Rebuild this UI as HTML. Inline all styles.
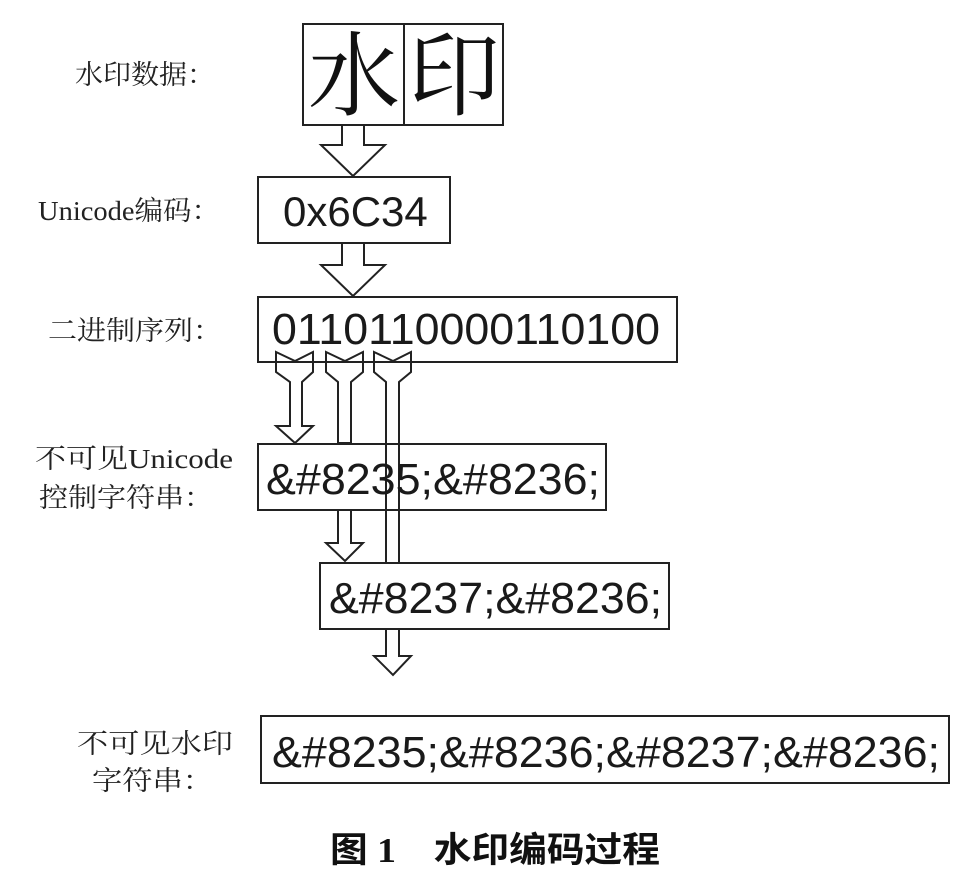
<!DOCTYPE html>
<html><head><meta charset="utf-8"><style>
html,body{margin:0;padding:0;background:#fff;}
svg{display:block}
.l{font-family:"Liberation Serif","Noto Serif CJK SC",serif;font-size:27px;fill:#222}
.b{font-family:"Liberation Sans","Noto Sans CJK SC",sans-serif;font-size:44px;fill:#1a1a1a}
</style></head><body>
<svg width="964" height="878" viewBox="0 0 964 878" xmlns="http://www.w3.org/2000/svg">
<g fill="#fff" stroke="#222" stroke-width="2">
<rect x="303" y="24" width="200" height="101"/>
<line x1="404" y1="24" x2="404" y2="125"/>
<polygon points="342,125 364,125 364,145 385,145 353,176 321,145 342,145"/>
<rect x="258" y="177" width="192" height="66"/>
<polygon points="342,243 364,243 364,265 385,265 353,296 321,265 342,265"/>
<rect x="258" y="297" width="419" height="65"/>
<rect x="258" y="444" width="348" height="66"/>
<rect x="320" y="563" width="349" height="66"/>
<rect x="261" y="716" width="688" height="67"/>
</g>
<g fill="none" stroke="#222" stroke-width="2">
<polygon points="276,352 295,361 313,352 313,372 302,382 302,426 313,426 295,443 276,426 290,426 290,382 276,372"/>
<polygon points="326,352 345,361 363,352 363,372 351,382 351,443 338,443 338,382 326,372"/>
<polygon points="338,510 351,510 351,543 363,543 345,561 326,543 338,543"/>
<polygon points="374,352 393,361 411,352 411,372 399,382 399,563 386,563 386,382 374,372"/>
<polygon points="386,629 399,629 399,656 411,656 393,675 374,656 386,656"/>
</g>
<text x="308" y="108" style="font-family:'Noto Serif CJK SC',serif;font-size:92px;fill:#111">水</text>
<text x="408" y="108" style="font-family:'Noto Serif CJK SC',serif;font-size:92px;fill:#111">印</text>
<text class="b" x="283" y="226" style="font-size:42px">0x6C34</text>
<text class="b" x="272" y="344" textLength="388" lengthAdjust="spacingAndGlyphs">0110110000110100</text>
<text class="b" x="266" y="494" textLength="334" lengthAdjust="spacingAndGlyphs">&amp;#8235;&amp;#8236;</text>
<text class="b" x="329" y="613" textLength="333" lengthAdjust="spacingAndGlyphs">&amp;#8237;&amp;#8236;</text>
<text class="b" x="272" y="767" textLength="668" lengthAdjust="spacingAndGlyphs">&amp;#8235;&amp;#8236;&amp;#8237;&amp;#8236;</text>
<text class="l" x="75" y="84" textLength="140" lengthAdjust="spacingAndGlyphs">水印数据：</text>
<text class="l" x="38" y="220" textLength="182" lengthAdjust="spacingAndGlyphs">Unicode编码：</text>
<text class="l" x="48" y="340" textLength="174" lengthAdjust="spacingAndGlyphs">二进制序列：</text>
<text class="l" x="35" y="468" textLength="198" lengthAdjust="spacingAndGlyphs">不可见Unicode</text>
<text class="l" x="39" y="507" textLength="174" lengthAdjust="spacingAndGlyphs">控制字符串：</text>
<text class="l" x="77" y="753" textLength="156" lengthAdjust="spacingAndGlyphs">不可见水印</text>
<text class="l" x="92" y="790" textLength="121" lengthAdjust="spacingAndGlyphs">字符串：</text>
<text x="330" y="862" textLength="330" lengthAdjust="spacingAndGlyphs" style="font-family:'Liberation Serif','Noto Sans CJK SC',sans-serif;font-size:35px;font-weight:bold;fill:#111">图 1　水印编码过程</text>
</svg>
</body></html>
